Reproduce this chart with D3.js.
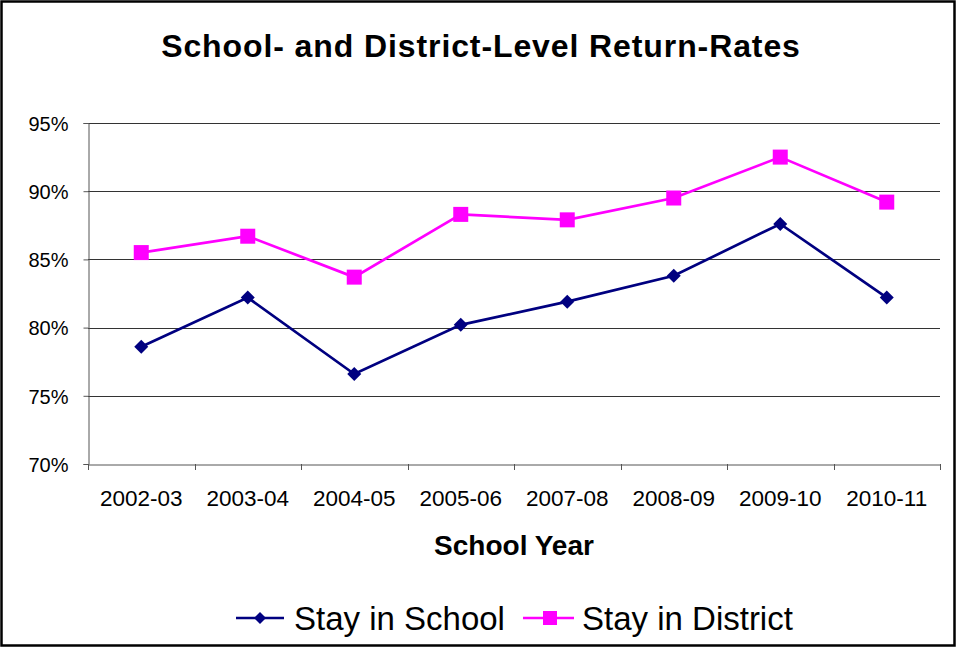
<!DOCTYPE html>
<html><head><meta charset="utf-8">
<script src="https://cdn.jsdelivr.net/npm/d3@7"></script>
<style>body{margin:0;background:#fff}svg{display:block}text{font-family:"Liberation Sans",Arial,sans-serif}</style>
</head><body>
<svg id="c" width="957" height="647"></svg>
<script>
const categories = ["2002-03","2003-04","2004-05","2005-06","2007-08","2008-09","2009-10","2010-11"];
const staySchool = [78.6, 82.2, 76.6, 80.2, 81.9, 83.8, 87.6, 82.2];
const stayDistrict = [85.5, 86.7, 83.7, 88.3, 87.9, 89.5, 92.5, 89.2];
const yTicks = [70, 75, 80, 85, 90, 95];

const svg = d3.select("#c");
svg.append("rect").attr("x",1.5).attr("y",1.5).attr("width",953).attr("height",644)
  .attr("fill","#fff").attr("stroke","#000").attr("stroke-width",2.5);

const L=88, R=940, T=123, B=464;
const x = d3.scaleBand().domain(categories).range([L,R]);
const y = d3.scaleLinear().domain([70,95]).range([B,T]);

svg.append("text").attr("x",481).attr("y",57).attr("text-anchor","middle")
  .attr("font-size",32).attr("font-weight","bold").attr("letter-spacing",0.9)
  .text("School- and District-Level Return-Rates");

// gridlines
svg.append("g").selectAll("line").data(yTicks.filter(d=>d>70)).join("line")
  .attr("x1",L).attr("x2",R).attr("y1",d=>Math.round(y(d))+0.5).attr("y2",d=>Math.round(y(d))+0.5)
  .attr("stroke","#333").attr("stroke-width",1);

// y axis
const ya = svg.append("g").attr("transform",`translate(${L+0.5},0)`)
  .call(d3.axisLeft(y).tickValues(yTicks).tickSize(5).tickFormat(d=>d+"%"));
ya.select(".domain").attr("stroke","#555");
ya.selectAll(".tick line").attr("stroke","#555");
ya.selectAll(".tick text").attr("font-size",20).attr("x",-20).attr("dy","0.36em").attr("fill","#000")
  .attr("font-family","Liberation Sans, Arial, sans-serif");

// x axis
const xa = svg.append("g").attr("transform",`translate(0,${Math.round(B)+0.5})`)
  .call(d3.axisBottom(x).tickSize(0).tickFormat(d=>d));
xa.select(".domain").attr("stroke","#555");
xa.selectAll(".tick text").attr("font-size",22.5).attr("y",41).attr("dy",0).attr("fill","#000")
  .attr("font-family","Liberation Sans, Arial, sans-serif");
// category boundary ticks
const bounds = categories.map(c=>x(c)).concat([R]);
svg.append("g").selectAll("line").data(bounds).join("line")
  .attr("x1",d=>Math.round(d)+0.5).attr("x2",d=>Math.round(d)+0.5)
  .attr("y1",B).attr("y2",B+6).attr("stroke","#555");

svg.append("text").attr("x",(L+R)/2).attr("y",555).attr("text-anchor","middle")
  .attr("font-size",28).attr("font-weight","bold").text("School Year");

const cx = d=>x(d)+x.bandwidth()/2;
const line = d3.line().x((d,i)=>cx(categories[i])).y(d=>y(d));
const diamondPath = r => `M0,${-r}L${r},0L0,${r}L${-r},0Z`;

svg.append("path").datum(stayDistrict).attr("d",line).attr("fill","none")
  .attr("stroke","#FF00FF").attr("stroke-width",2.7);
svg.append("g").selectAll("rect").data(stayDistrict).join("rect")
  .attr("x",(d,i)=>cx(categories[i])-7.5).attr("y",d=>y(d)-7.5).attr("width",15).attr("height",15)
  .attr("fill","#FF00FF");

svg.append("path").datum(staySchool).attr("d",line).attr("fill","none")
  .attr("stroke","#000080").attr("stroke-width",2.7);
svg.append("g").selectAll("path").data(staySchool).join("path")
  .attr("transform",(d,i)=>`translate(${cx(categories[i])},${y(d)})`)
  .attr("d",diamondPath(7)).attr("fill","#000080");

// legend
const lg = svg.append("g");
lg.append("line").attr("x1",236).attr("x2",284).attr("y1",618).attr("y2",618).attr("stroke","#000080").attr("stroke-width",2.7);
lg.append("path").attr("transform","translate(260,618)").attr("d",diamondPath(6)).attr("fill","#000080");
lg.append("text").attr("x",294).attr("y",630).attr("font-size",33).text("Stay in School");
lg.append("line").attr("x1",523).attr("x2",574).attr("y1",618).attr("y2",618).attr("stroke","#FF00FF").attr("stroke-width",2.7);
lg.append("rect").attr("x",543).attr("y",611).attr("width",14).attr("height",14).attr("fill","#FF00FF");
lg.append("text").attr("x",582).attr("y",630).attr("font-size",33).text("Stay in District");
</script>
</body></html>
